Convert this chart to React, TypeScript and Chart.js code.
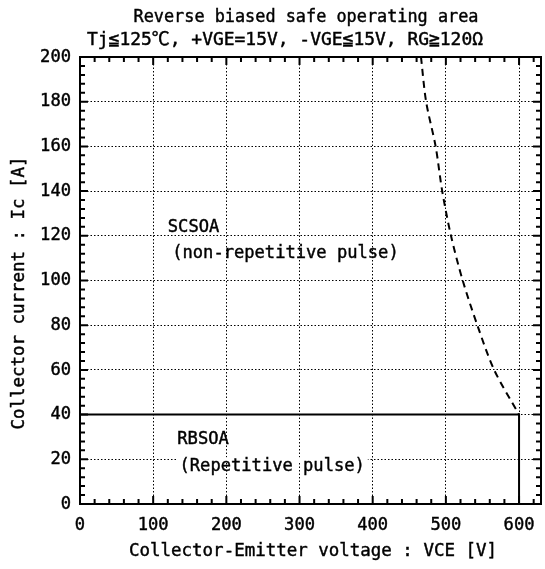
import React, { useEffect, useRef } from "react";
import { Chart, registerables } from "chart.js";

Chart.register(...registerables);

const titleLines = [
  "Reverse biased safe operating area",
  "Tj≦125℃, +VGE=15V, -VGE≦15V, RG≧120Ω",
];
const xTitle = "Collector-Emitter voltage : VCE [V]";
const yTitle = "Collector current : Ic [A]";

const xMin = 0;
const xMax = 630;
const yMin = 0;
const yMax = 200;
const xMajor = 100;
const xMinor = 20;
const yMajor = 20;
const yMinor = 4;
const xTickValues = [0, 100, 200, 300, 400, 500, 600];
const yTickValues = [0, 20, 40, 60, 80, 100, 120, 140, 160, 180, 200];

// RBSOA boundary (solid)
const rbsoaV = [0, 600, 600];
const rbsoaI = [40, 40, 0];

// SCSOA boundary (dashed)
const scsoaV = [466, 473, 486, 495, 507, 523, 543, 566, 600];
const scsoaI = [200, 180, 160, 140, 120, 100, 80, 60, 40];

const annotations = [
  { text: "SCSOA", v: 120, i: 124 },
  { text: "(non-repetitive pulse)", v: 126, i: 112 },
  { text: "RBSOA", v: 133, i: 29 },
  { text: "(Repetitive pulse)", v: 136, i: 17 },
];

const FONT = "'DejaVu Sans Mono', 'Noto Sans CJK JP', monospace";
const FS = 18;

function drawText(
  ctx: CanvasRenderingContext2D,
  text: string,
  x: number,
  y: number,
  align: "left" | "center" | "right",
  opts: { width?: number; sx?: number; rotate?: boolean } = {}
) {
  ctx.save();
  ctx.font = `${FS}px ${FONT}`;
  ctx.textBaseline = "middle";
  ctx.textAlign = align;
  ctx.fillStyle = "#000";
  ctx.strokeStyle = "#000";
  ctx.lineWidth = 0.45;
  const w = ctx.measureText(text).width;
  const sx = opts.width ? opts.width / w : opts.sx ?? 0.95;
  ctx.translate(x, y);
  if (opts.rotate) ctx.rotate(-Math.PI / 2);
  ctx.scale(sx, 1);
  ctx.fillText(text, 0, 0);
  ctx.strokeText(text, 0, 0);
  ctx.restore();
  return w * sx;
}

export default function App() {
  const ref = useRef<HTMLCanvasElement | null>(null);

  useEffect(() => {
    const canvas = ref.current;
    if (!canvas) return;

    const decor = {
      id: "decor",
      beforeDatasetsDraw(chart: any) {
        const ctx = chart.ctx;
        const xs = chart.scales.x;
        const ys = chart.scales.y;
        ctx.save();
        ctx.font = `${FS}px ${FONT}`;
        for (const a of annotations) {
          const px = xs.getPixelForValue(a.v);
          const py = ys.getPixelForValue(a.i);
          const w = ctx.measureText(a.text).width * 0.95;
          for (const g of yTickValues) {
            const gy = ys.getPixelForValue(g);
            if (Math.abs(gy - py) <= 8) {
              ctx.fillStyle = "#fff";
              ctx.fillRect(px - 3, gy - 2, w + 6, 4);
            }
          }
        }
        ctx.restore();
        for (const a of annotations) {
          drawText(ctx, a.text, xs.getPixelForValue(a.v), ys.getPixelForValue(a.i), "left");
        }
      },
      afterDatasetsDraw(chart: any) {
        const ctx = chart.ctx;
        const ca = chart.chartArea;
        const xs = chart.scales.x;
        const ys = chart.scales.y;
        ctx.save();
        ctx.strokeStyle = "#000";
        ctx.lineWidth = 2;
        for (let v = xMin; v <= xMax; v += xMinor) {
          const px = xs.getPixelForValue(v);
          const len = v % xMajor === 0 ? 8 : 5;
          ctx.beginPath();
          ctx.moveTo(px, ca.bottom);
          ctx.lineTo(px, ca.bottom - len);
          ctx.moveTo(px, ca.top);
          ctx.lineTo(px, ca.top + len);
          ctx.stroke();
        }
        for (let v = yMin; v <= yMax; v += yMinor) {
          const py = ys.getPixelForValue(v);
          const len = v % yMajor === 0 ? 8 : 5;
          ctx.beginPath();
          ctx.moveTo(ca.left, py);
          ctx.lineTo(ca.left + len, py);
          ctx.moveTo(ca.right, py);
          ctx.lineTo(ca.right - len, py);
          ctx.stroke();
        }
        ctx.strokeRect(ca.left, ca.top, ca.right - ca.left, ca.bottom - ca.top);
        ctx.restore();
      },
      afterDraw(chart: any) {
        const ctx = chart.ctx;
        const xs = chart.scales.x;
        const ys = chart.scales.y;
        for (const v of xTickValues) {
          drawText(ctx, String(v), xs.getPixelForValue(v), 525, "center");
        }
        for (const v of yTickValues) {
          drawText(ctx, String(v), 71, ys.getPixelForValue(v), "right");
        }
        drawText(ctx, titleLines[0], 306, 17, "center", { width: 345 });
        drawText(ctx, titleLines[1], 285, 40, "center", { width: 396 });
        drawText(ctx, xTitle, 313, 551, "center", { width: 368 });
        drawText(ctx, yTitle, 19, 293, "center", { width: 273, rotate: true });
      },
    };

    const chart = new Chart(canvas, {
      type: "line",
      data: {
        datasets: [
          {
            label: "RBSOA",
            data: rbsoaV.map((v, k) => ({ x: v, y: rbsoaI[k] })),
            borderColor: "#000",
            borderWidth: 2,
            pointRadius: 0,
            fill: false,
            tension: 0,
          },
          {
            label: "SCSOA",
            data: scsoaV.map((v, k) => ({ x: v, y: scsoaI[k] })),
            borderColor: "#000",
            borderWidth: 2,
            borderDash: [7, 5],
            pointRadius: 0,
            fill: false,
            tension: 0.3,
          },
        ],
      },
      options: {
        responsive: false,
        animation: false,
        layout: { padding: { left: 0, top: 57, right: 4, bottom: 0 } },
        plugins: {
          legend: { display: false },
          title: { display: false },
          tooltip: { enabled: false },
        },
        scales: {
          x: {
            type: "linear",
            min: xMin,
            max: xMax,
            afterBuildTicks: (s: any) => {
              s.ticks = xTickValues.map((value) => ({ value }));
            },
            afterFit: (s: any) => {
              s.height = 65;
            },
            ticks: { display: false },
            grid: { color: "#000", lineWidth: 1, drawTicks: false },
            border: { display: false, dash: [1.5, 2] },
          },
          y: {
            type: "linear",
            min: yMin,
            max: yMax,
            afterBuildTicks: (s: any) => {
              s.ticks = yTickValues.map((value) => ({ value }));
            },
            afterFit: (s: any) => {
              s.width = 80;
            },
            ticks: { display: false },
            grid: { color: "#000", lineWidth: 1, drawTicks: false },
            border: { display: false, dash: [1.5, 2] },
          },
        },
      },
      plugins: [decor],
    } as any);

    return () => chart.destroy();
  }, []);

  return (
    <div style={{ position: "absolute", left: 0, top: 0, width: 545, height: 569, background: "#fff" }}>
      <canvas ref={ref} width={545} height={569} style={{ display: "block" }} />
    </div>
  );
}
